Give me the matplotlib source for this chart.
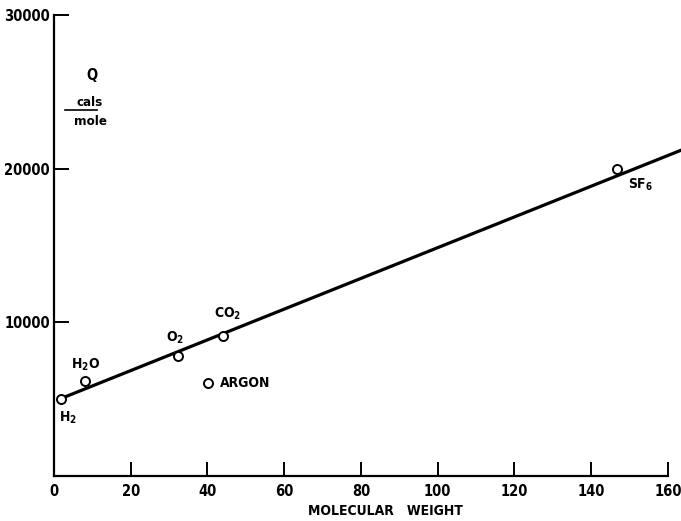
import matplotlib
matplotlib.use('Agg')
import matplotlib.pyplot as plt

plt.rcParams['font.stretch'] = 'condensed'
plt.rcParams['font.weight'] = 'bold'

# data
gases = ['H$_\\mathbf{2}$', 'H$_\\mathbf{2}$O', 'O$_\\mathbf{2}$', 'CO$_\\mathbf{2}$', 'ARGON', 'SF$_\\mathbf{6}$']
mol_weight = [1.8, 8.1, 32.3, 44.0, 40.1, 146.6]
q_cals = [5030, 6180, 7780, 9090, 6080, 19980]

fit_x = [2, 164]
fit_y = [5060, 21260]

xticks = [0, 20, 40, 60, 80, 100, 120, 140, 160]
yticks = [10000, 20000, 30000]

# label offsets in points (dx, dy) and alignment
offsets = [(5, -14, 'center'), (0, 11.5, 'center'), (-2, 13.5, 'center'),
           (3.5, 16.5, 'center'), (8.5, 0, 'left'), (17, -11.5, 'center')]

fig = plt.figure(figsize=(6.81, 5.21), dpi=100)
ax = fig.add_axes([54 / 681, 45 / 521, 627.4 / 681, 461 / 521])

ax.plot(fit_x, fit_y, color='black', lw=2.3, solid_capstyle='butt', clip_on=True)
ax.plot(mol_weight, q_cals, 'o', ms=6.5, mfc='white', mec='black', mew=1.4, zorder=3)

for name, x, y, (dx, dy, ha) in zip(gases, mol_weight, q_cals, offsets):
    ax.annotate(name, (x, y), xytext=(dx, dy), textcoords='offset points',
                ha=ha, va='center', fontsize=10, fontweight='bold')

ax.set_xlim(0, 163.5)
ax.set_ylim(0, 30000)
ax.spines['top'].set_visible(False)
ax.spines['right'].set_visible(False)
ax.spines['bottom'].set_bounds(0, 160)
ax.spines['left'].set_linewidth(1.6)
ax.spines['bottom'].set_linewidth(1.6)

ax.set_xticks(xticks)
ax.set_xticklabels([str(t) for t in xticks], fontsize=10.5, fontweight='bold')
ax.set_yticks(yticks)
ax.set_yticklabels([str(t) for t in yticks], fontsize=10.5, fontweight='bold')
ax.tick_params(axis='x', direction='in', length=10, width=1.4, pad=6)
ax.tick_params(axis='y', direction='in', length=11, width=1.4, pad=3)
ax.xaxis.get_major_ticks()[0].tick1line.set_visible(False)

ax.text(0.529, -0.076, 'MOLECULAR   WEIGHT', transform=ax.transAxes,
        ha='center', va='center', fontsize=10, fontweight='bold')

# y-axis unit label
ax.text(0.061, 0.868, 'Q', transform=ax.transAxes, ha='center', va='center',
        fontsize=10.5, fontweight='bold')
ax.text(0.0574, 0.811, 'cals', transform=ax.transAxes, ha='center', va='center',
        fontsize=9.5, fontweight='bold')
ax.plot([0.0175, 0.0685], [0.794, 0.794], transform=ax.transAxes, color='black', lw=1.2)
ax.text(0.0574, 0.768, 'mole', transform=ax.transAxes, ha='center', va='center',
        fontsize=9.5, fontweight='bold')

plt.savefig('out.png', dpi=100)
plt.close()
